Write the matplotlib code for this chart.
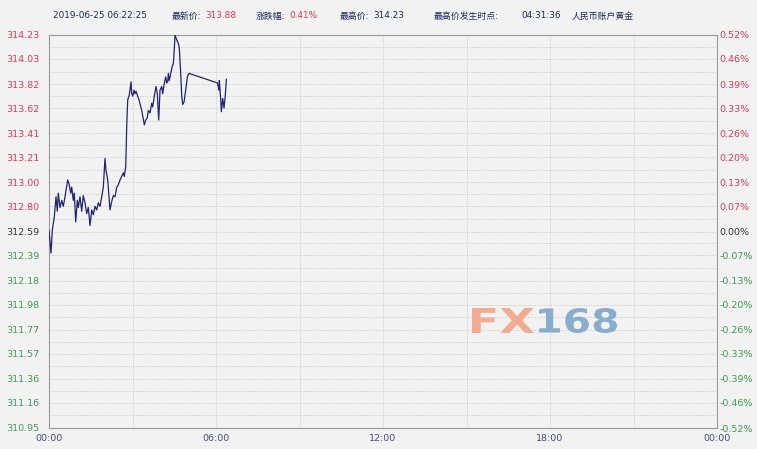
import matplotlib
matplotlib.use("Agg")
import matplotlib.pyplot as plt
import numpy as np
from matplotlib.textpath import TextPath
from matplotlib.patches import PathPatch
from matplotlib.font_manager import FontProperties
from matplotlib.transforms import Affine2D

# ---- data ----
minutes = [0, 4.3, 7.1, 11.4, 15.1, 17.9, 20.0, 23.7, 27.4, 30.8, 34.5, 40.3, 43.1, 46.8,
           48.9, 52.4, 54.5, 57.6, 61.0, 63.2, 66.8, 70.5, 73.9, 77.6, 81.3, 84.7, 88.4,
           92.1, 95.5, 99.2, 102.8, 106.3, 110.0, 113.6, 117.1, 120.7, 122.9, 126.6, 131.5,
           135.2, 138.6, 142.3, 146.0, 149.4, 153.1, 156.7, 160.2, 162.3, 165.4, 167.5,
           169.7, 172.5, 174.6, 176.8, 178.3, 180.5, 183.3, 185.4, 187.6, 190.4, 194.0,
           199.9, 205.5, 208.5, 211.9, 214.1, 217.8, 221.4, 223.6, 227.0, 230.7, 233.5,
           236.5, 239.3, 243.0, 245.1, 248.6, 251.6, 253.8, 255.9, 257.2, 259.4, 263.0,
           265.8, 268.0, 270.1, 271.6, 275.3, 278.8, 280.9, 283.9, 286.1, 288.3, 291.1,
           294.7, 298.2, 301.8, 362.9, 365.0, 366.5, 367.2, 370.2, 371.5, 374.5, 377.3,
           380.1, 382.4]
prices = [312.60, 312.41, 312.60, 312.71, 312.88, 312.76, 312.91, 312.79, 312.85, 312.80,
          312.88, 313.02, 312.99, 312.91, 312.96, 312.85, 312.91, 312.67, 312.85, 312.79,
          312.88, 312.76, 312.89, 312.83, 312.74, 312.79, 312.64, 312.77, 312.73, 312.80,
          312.77, 312.83, 312.80, 312.88, 312.96, 313.20, 313.10, 313.02, 312.77, 312.84,
          312.89, 312.88, 312.96, 312.98, 313.02, 313.05, 313.08, 313.05, 313.13, 313.47,
          313.69, 313.72, 313.77, 313.84, 313.74, 313.72, 313.77, 313.74, 313.76, 313.73,
          313.69, 313.60, 313.48, 313.52, 313.54, 313.60, 313.58, 313.66, 313.63, 313.72,
          313.80, 313.74, 313.52, 313.77, 313.80, 313.74, 313.83, 313.88, 313.83, 313.84,
          313.91, 313.85, 313.92, 313.97, 313.99, 314.11, 314.23, 314.19, 314.16, 314.12,
          313.91, 313.72, 313.65, 313.67, 313.77, 313.88, 313.91, 313.83, 313.80, 313.77,
          313.85, 313.69, 313.59, 313.70, 313.62, 313.73, 313.86]

price_ticks = [314.23, 314.03, 313.82, 313.62, 313.41, 313.21, 313.00, 312.80, 312.59,
               312.39, 312.18, 311.98, 311.77, 311.57, 311.36, 311.16, 310.95]
pct_labels = ["0.52%", "0.46%", "0.39%", "0.33%", "0.26%", "0.20%", "0.13%", "0.07%", "0.00%",
              "-0.07%", "-0.13%", "-0.20%", "-0.26%", "-0.33%", "-0.39%", "-0.46%", "-0.52%"]
x_ticks_h = [0, 6, 12, 18, 24]
x_labels = ["00:00", "06:00", "12:00", "18:00", "00:00"]
prev_close = 312.59

header_date = "2019-06-25 06:22:25"
latest = "313.88"
change = "0.41%"
high = "314.23"
high_time = "04:31:36"
title = "人民币账户黄金"

# ---- style ----
BG = "#f2f2f2"
RED = "#dc3a52"
GREEN = "#3f9a52"
NEUTRAL = "#333333"
XLAB = "#4a4a88"
LINE = "#23236e"
GRID = "#d0d0d0"
FONTS = ["DejaVu Sans", "Noto Sans CJK SC"]
plt.rcParams["font.family"] = FONTS

W, H = 757, 449
fig = plt.figure(figsize=(W / 100, H / 100), dpi=100, facecolor=BG)
L, R, T, B = 49, 717, 35, 428
ax = fig.add_axes([L / W, 1 - B / H, (R - L) / W, (B - T) / H])
ax.set_facecolor(BG)

ymin, ymax = price_ticks[-1], price_ticks[0]
ax.set_ylim(ymin, ymax)
ax.set_xlim(0, 24 * 60)

# grid: dotted at ticks and half ticks
tick_arr = np.array(price_ticks)
halves = (tick_arr[:-1] + tick_arr[1:]) / 2
for v in list(tick_arr[1:-1]) + list(halves):
    ax.axhline(v, color=GRID, lw=0.7, ls=(0, (1.2, 1.2)), zorder=1)
for h in range(3, 24, 3):
    ax.axvline(h * 60, color=GRID, lw=0.7, ls=(0, (1.2, 1.2)), zorder=1)

for s in ax.spines.values():
    s.set_color("#9a9a9a")
    s.set_linewidth(0.8)

ax.plot(minutes, prices, color=LINE, lw=0.9, zorder=3)

# left ticks
ax.set_yticks(price_ticks)
ax.set_yticklabels([f"{v:.2f}" for v in price_ticks], fontsize=6.8)
ax.tick_params(axis="y", length=0, pad=7)
for lbl, v in zip(ax.get_yticklabels(), price_ticks):
    lbl.set_color(RED if v > prev_close + 1e-9 else (GREEN if v < prev_close - 1e-9 else NEUTRAL))

# right ticks
ax2 = ax.twinx()
ax2.set_ylim(ymin, ymax)
ax2.set_yticks(price_ticks)
ax2.set_yticklabels(pct_labels, fontsize=6.8)
ax2.tick_params(axis="y", length=0, pad=2)
for lbl, t in zip(ax2.get_yticklabels(), pct_labels):
    lbl.set_color(GREEN if t.startswith("-") else (NEUTRAL if t == "0.00%" else RED))
for s in ax2.spines.values():
    s.set_visible(False)

ax.set_xticks([h * 60 for h in x_ticks_h])
ax.set_xticklabels(x_labels, fontsize=6.8, color=XLAB)
ax.tick_params(axis="x", length=0, pad=4)

# header
def htext(x, s, color, **kw):
    fig.text(x / W, 1 - 16 / H, s, color=color, fontsize=6.4, va="center", ha="left",
             family=FONTS, **kw)

HDR = "#1c2a5c"
htext(53, header_date, HDR)
htext(172, "最新价:", HDR)
htext(205, latest, RED)
htext(256, "涨跌幅:", HDR)
htext(289, change, RED)
htext(340, "最高价:", HDR)
htext(373, high, HDR)
htext(434, "最高价发生时点:", HDR)
htext(521, high_time, HDR)
htext(572, title, HDR)

# watermark (stretched bold text paths, pixel box)
fp = FontProperties(family="DejaVu Sans", weight="bold")
def wm(s, x0, x1, ytop, ybot, color):
    tp = TextPath((0, 0), s, size=10, prop=fp)
    bb = tp.get_extents()
    sx = (x1 - x0) / bb.width
    sy = (ybot - ytop) / bb.height
    tr = (Affine2D().translate(-bb.x0, -bb.y0).scale(sx, sy)
          .translate(x0, H - ybot).scale(1 / W, 1 / H) + fig.transFigure)
    fig.add_artist(PathPatch(tp, facecolor=color, edgecolor="none", alpha=0.9,
                             transform=tr, zorder=2))

wm("FX", 472, 534, 308, 333, "#f3a587")
wm("168", 539, 617, 308, 333, "#7ea6c8")

fig.savefig("out.png", dpi=100, facecolor=BG)
